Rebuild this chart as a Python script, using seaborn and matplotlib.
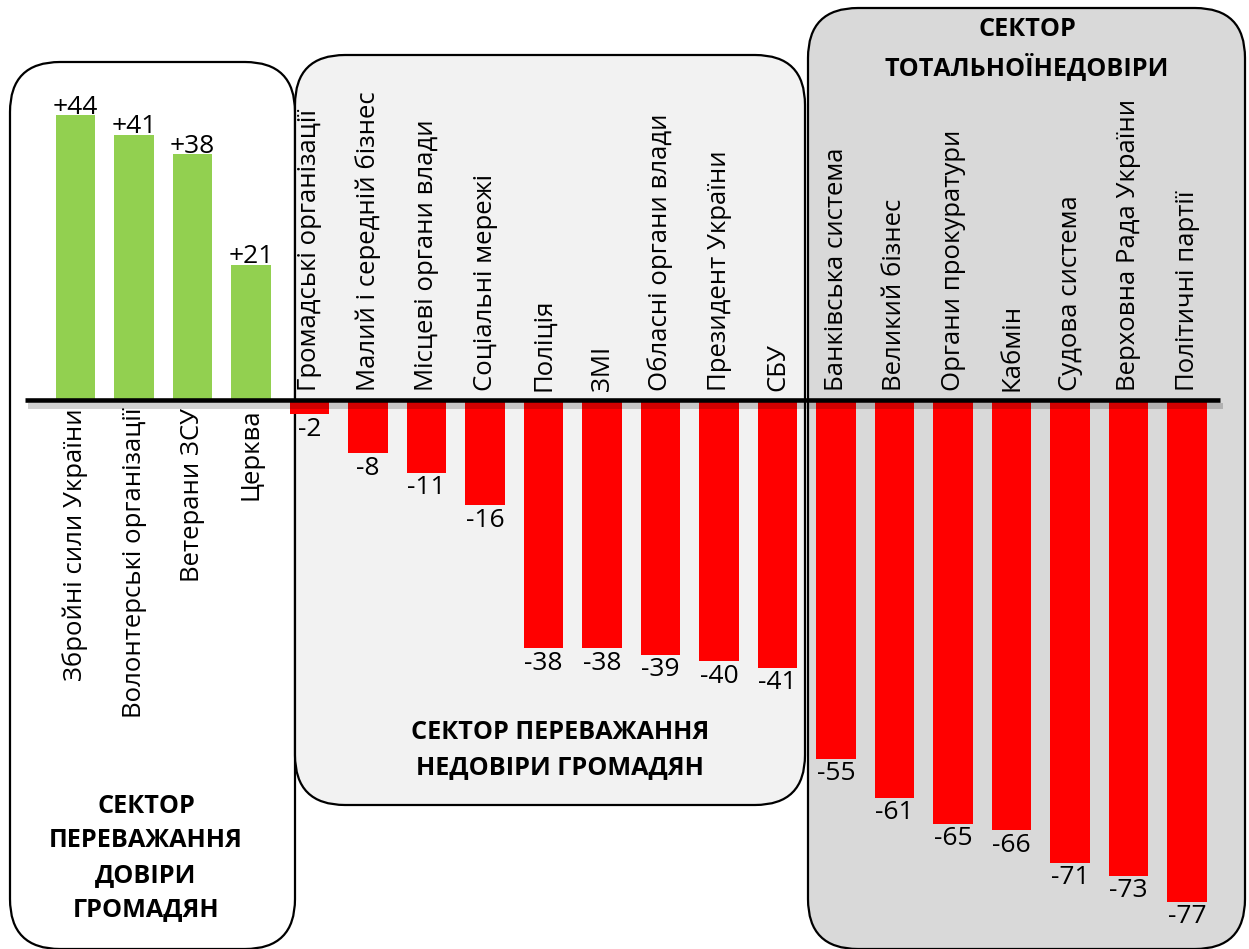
import matplotlib
matplotlib.use("Agg")
import matplotlib.pyplot as plt
import seaborn as sns
import pandas as pd
from matplotlib.patches import FancyBboxPatch
from matplotlib.transforms import IdentityTransform, offset_copy

categories = [
    "Збройні сили України", "Волонтерські організації", "Ветерани ЗСУ", "Церква",
    "Громадські організації", "Малий і середній бізнес", "Місцеві органи влади",
    "Соціальні мережі", "Поліція", "ЗМІ", "Обласні органи влади", "Президент України",
    "СБУ", "Банківська система", "Великий бізнес", "Органи прокуратури", "Кабмін",
    "Судова система", "Верховна Рада України", "Політичні партії",
]
values = [44, 41, 38, 21, -2, -8, -11, -16, -38, -38, -39, -40, -41,
          -55, -61, -65, -66, -71, -73, -77]
sector_titles = [
    "СЕКТОР\nПЕРЕВАЖАННЯ\nДОВІРИ\nГРОМАДЯН",
    "СЕКТОР ПЕРЕВАЖАННЯ\nНЕДОВІРИ ГРОМАДЯН",
    "СЕКТОР\nТОТАЛЬНОЇНЕДОВІРИ",
]

sns.set_theme(style="white")
plt.rcParams["font.family"] = ["Open Sans", "DejaVu Sans"]
plt.rcParams["text.color"] = "black"

W, H = 1249, 949
fig = plt.figure(figsize=(W / 100, H / 100), dpi=100)
ax = fig.add_axes([0, 0, 1, 1])
ax.set_axis_off()

df = pd.DataFrame({"cat": categories, "val": values,
                   "sign": ["pos" if v > 0 else "neg" for v in values]})

# background sector boxes (pixel coordinates, image y measured from top)
def box(x0, y0, x1, y1, fc, r=50):
    p = FancyBboxPatch((x0 + r, H - y1 + r), (x1 - x0) - 2 * r, (y1 - y0) - 2 * r,
                       boxstyle=f"round,pad={r}", transform=IdentityTransform(),
                       facecolor=fc, edgecolor="black", linewidth=1.6, zorder=0)
    ax.add_patch(p)

box(10, 62, 295, 949, "white")
box(295, 55, 805, 805, "#F2F2F2")
box(808, 8, 1245, 949, "#D9D9D9")

sns.barplot(data=df, x="cat", y="val", hue="sign",
            palette={"pos": "#92D050", "neg": "#FF0000"},
            width=0.67, legend=False, ax=ax, zorder=2, saturation=1,
            edgecolor="none", linewidth=0)

pitch, first = 58.5, 75.5
zero_px = 401
ax.set_xlim(-first / pitch, (W - first) / pitch)
ppu = 6.5
ax.set_ylim(-(H - zero_px) / ppu, zero_px / ppu)

# zero line with translucent shadow
xl, xr = (25 - first) / pitch, (1220 - first) / pitch
ax.plot([xl, xr], [0, 0], color="black", alpha=0.18, lw=4.3, zorder=3,
        solid_capstyle="butt",
        transform=offset_copy(ax.transData, fig=fig, x=3, y=-5, units="dots"))
ax.plot([xl, xr], [0, 0], color="black", lw=3.3, zorder=4, solid_capstyle="butt",
        transform=offset_copy(ax.transData, fig=fig, x=0, y=1, units="dots"))

for i, (c, v) in enumerate(zip(categories, values)):
    lab = f"+{v}" if v > 0 else f"{v}"
    if v > 0:
        ax.annotate(lab, (i, v), xytext=(0, 1), textcoords="offset points",
                    ha="center", va="baseline", fontsize=19, zorder=5)
        ax.annotate(c, (i, 0), xytext=(0, -5), textcoords="offset points",
                    ha="center", va="top", rotation=90, fontsize=18.5, zorder=5)
    else:
        ax.annotate(lab, (i, v), xytext=(0, -2), textcoords="offset points",
                    ha="center", va="top", fontsize=19, zorder=5)
        ax.annotate(c, (i, 0), xytext=(0, 7), textcoords="offset points",
                    ha="center", va="bottom", rotation=90, fontsize=18.5, zorder=5)

title_pos = [(146, 858), (560, 750), (1027, 49)]
for t, (px, py) in zip(sector_titles, title_pos):
    fig.text(px / W, 1 - py / H, t, ha="center", va="center", fontsize=18.2,
             fontweight="bold", linespacing=1.5, zorder=6)

fig.savefig("out.png", dpi=100)
